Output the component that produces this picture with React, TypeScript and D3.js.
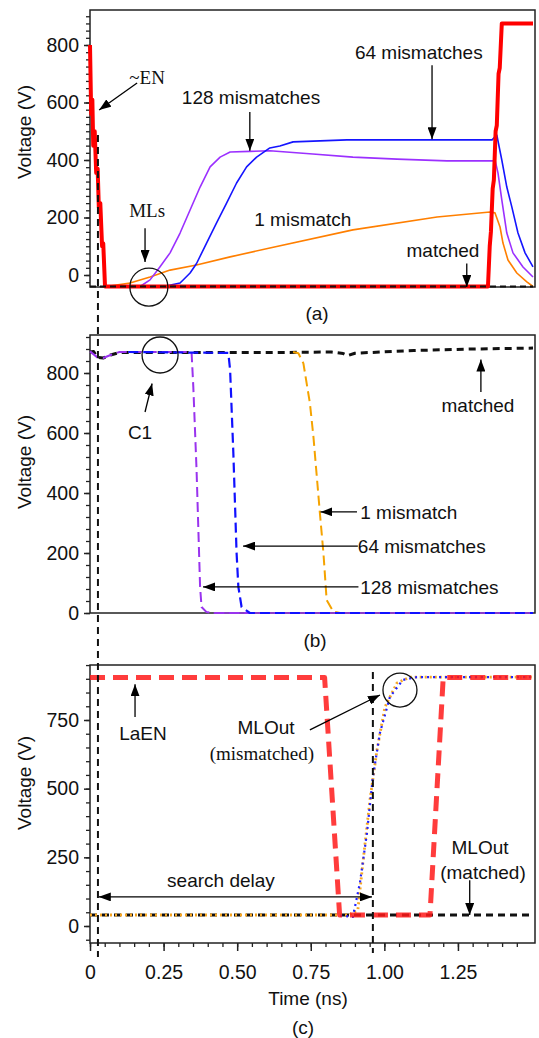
import React, { useEffect, useRef } from "react";
import * as d3 from "d3";

type Pt = [number, number];

// time axis (ns), shared by all three panels
const xTicks = [0, 0.25, 0.5, 0.75, 1, 1.25];
const yTicksA = [0, 200, 400, 600, 800];
const yTicksB = [0, 200, 400, 600, 800];
const yTicksC = [0, 250, 500, 750];

// (a) ~EN and match lines
const enA: Pt[] = [[0, 800], [0.004, 560], [0.008, 610], [0.011, 450], [0.016, 500], [0.021, 355], [0.026, 370], [0.03, 235], [0.035, 250], [0.041, 100], [0.045, 110], [0.051, -40], [1.352, -40], [1.358, 100], [1.362, 150], [1.368, 300], [1.372, 330], [1.378, 500], [1.382, 520], [1.388, 700], [1.392, 720], [1.399, 875], [1.505, 875]];
const ml128A: Pt[] = [[0.17, -40], [0.204, -17], [0.238, 29], [0.272, 77], [0.306, 146], [0.34, 226], [0.374, 306], [0.408, 376], [0.442, 410], [0.476, 428], [0.543, 430], [0.611, 432], [0.757, 421], [0.893, 410], [1.043, 403], [1.213, 397], [1.369, 397], [1.376, 400], [1.386, 355], [1.399, 261], [1.416, 146], [1.437, 77], [1.471, 28], [1.505, -7]];
const ml64A: Pt[] = [[0.25, -40], [0.306, -28], [0.34, 7], [0.362, 40], [0.396, 111], [0.43, 181], [0.464, 250], [0.498, 320], [0.532, 376], [0.566, 410], [0.611, 442], [0.645, 449], [0.69, 463], [0.873, 470], [1.366, 470], [1.382, 487], [1.399, 400], [1.416, 306], [1.433, 237], [1.454, 146], [1.478, 77], [1.505, 28]];
const ml1A: Pt[] = [[0.055, -40], [0.136, -28], [0.204, -7], [0.272, 17], [0.362, 35], [0.476, 63], [0.611, 94], [0.893, 157], [1.179, 202], [1.359, 219], [1.376, 216], [1.393, 167], [1.403, 111], [1.42, 52], [1.45, 7], [1.484, -24], [1.505, -40]];
const matchedA: Pt[] = [[0, -40], [1.505, -40]];

// (b) C1 node voltages
const matchedB: Pt[] = [[0, 870], [0.012, 872], [0.025, 852], [0.045, 850], [0.07, 860], [0.1, 868], [0.6, 868], [0.82, 870], [0.86, 865], [0.875, 858], [0.9, 866], [1.1, 875], [1.3, 880], [1.505, 883]];
const ml128B: Pt[] = [[0, 872], [0.025, 852], [0.045, 850], [0.07, 860], [0.1, 870], [0.345, 870], [0.351, 753], [0.362, 477], [0.374, 87], [0.379, 20], [0.396, 3], [0.42, 0], [1.505, 0]];
const ml64B: Pt[] = [[0.13, 870], [0.47, 867], [0.476, 810], [0.487, 533], [0.498, 200], [0.504, 87], [0.515, 20], [0.543, 0], [1.505, 0]];
const ml1B: Pt[] = [[0.69, 870], [0.708, 866], [0.725, 832], [0.747, 700], [0.759, 588], [0.781, 333], [0.793, 200], [0.804, 43], [0.827, 4], [0.85, 0]];
const floorB: Pt[] = [[0.42, 0], [1.505, 0]];

// (c) LaEN and MLOut
const laEN: Pt[] = [[0, 905], [0.797, 905], [0.848, 40], [1.155, 40], [1.2, 905], [1.505, 905]];
const matchedC: Pt[] = [[0, 40], [1.505, 40]];
const mlOutOrange: Pt[] = [[0, 40], [0.88, 40], [0.91, 58], [0.927, 229], [0.951, 459], [0.975, 641], [1.002, 797], [1.043, 885], [1.087, 906], [1.505, 906]];
const mlOutBlue: Pt[] = [[0.85, 38], [0.893, 33], [0.917, 157], [0.941, 339], [0.961, 542], [0.985, 703], [1.019, 834], [1.063, 896], [1.111, 906], [1.505, 906]];

const SANS = "'Liberation Sans', Arial, sans-serif";
const SERIF = "'Liberation Serif', 'Times New Roman', serif";

export default function App() {
  const ref = useRef<SVGSVGElement>(null);

  useEffect(() => {
    const svg = d3.select(ref.current);
    svg.selectAll("*").remove();

    const defs = svg.append("defs");
    defs
      .append("marker")
      .attr("id", "arr")
      .attr("viewBox", "0 0 12 9")
      .attr("markerUnits", "userSpaceOnUse")
      .attr("markerWidth", 12)
      .attr("markerHeight", 9)
      .attr("refX", 12)
      .attr("refY", 4.5)
      .attr("orient", "auto-start-reverse")
      .append("path")
      .attr("d", "M0,0 L12,4.5 L0,9 z")
      .attr("fill", "#000");

    const x = d3.scaleLinear().domain([0, 1.505]).range([90, 533]);
    const left = 90;
    const right = 535;

    const yA = d3.scaleLinear().domain([0, 800]).range([275, 45]);
    const yB = d3.scaleLinear().domain([0, 800]).range([613, 373]);
    const yC = d3.scaleLinear().domain([0, 750]).range([926, 720]);

    const frame = (top: number, bottom: number) => {
      svg
        .append("rect")
        .attr("x", left)
        .attr("y", top)
        .attr("width", right - left)
        .attr("height", bottom - top)
        .attr("fill", "none")
        .attr("stroke", "#222")
        .attr("stroke-width", 1.5);
    };

    const yAxis = (y: d3.ScaleLinear<number, number>, majors: number[], step: number, top: number, bottom: number, lo: number) => {
      const minors = d3.range(lo, y.invert(top) + 0.01, step).filter((v) => y(v) <= bottom + 0.5);
      const g = svg.append("g").attr("transform", `translate(${left},0)`);
      g.call(d3.axisLeft(y).tickValues(minors).tickSize(4).tickFormat(() => ""));
      g.select(".domain").remove();
      g.selectAll("line").attr("stroke", "#222").attr("stroke-width", 1.3);
      const gm = svg.append("g").attr("transform", `translate(${left},0)`);
      gm.call(d3.axisLeft(y).tickValues(majors).tickSize(6).tickPadding(5));
      gm.select(".domain").remove();
      gm.selectAll("line").attr("stroke", "#222").attr("stroke-width", 1.5);
      gm.selectAll("text").attr("font-family", SANS).attr("font-size", 19.5).attr("fill", "#111");
    };

    const yTitle = (cy: number) => {
      svg
        .append("text")
        .attr("transform", `translate(31,${cy}) rotate(-90)`)
        .attr("text-anchor", "middle")
        .attr("font-family", SANS)
        .attr("font-size", 19)
        .attr("fill", "#111")
        .text("Voltage (V)");
    };

    const curve = (data: Pt[], y: d3.ScaleLinear<number, number>, color: string, width: number, dash?: string, opacity = 1) => {
      const line = d3
        .line<Pt>()
        .x((d) => x(d[0]))
        .y((d) => y(d[1]));
      svg
        .append("path")
        .datum(data)
        .attr("d", line)
        .attr("fill", "none")
        .attr("stroke", color)
        .attr("stroke-width", width)
        .attr("stroke-dasharray", dash ?? null)
        .attr("stroke-linejoin", "round")
        .attr("opacity", opacity);
    };

    const arrow = (y: d3.ScaleLinear<number, number>, a: Pt, b: Pt, both = false) => {
      svg
        .append("line")
        .attr("x1", x(a[0]))
        .attr("y1", y(a[1]))
        .attr("x2", x(b[0]))
        .attr("y2", y(b[1]))
        .attr("stroke", "#000")
        .attr("stroke-width", 1.3)
        .attr("marker-end", "url(#arr)")
        .attr("marker-start", both ? "url(#arr)" : null);
    };

    const label = (y: d3.ScaleLinear<number, number>, text: string, p: Pt, opts: { serif?: boolean; size?: number; anchor?: string } = {}) => {
      svg
        .append("text")
        .attr("x", x(p[0]))
        .attr("y", y(p[1]))
        .attr("dy", "0.35em")
        .attr("text-anchor", opts.anchor ?? "middle")
        .attr("font-family", opts.serif ? SERIF : SANS)
        .attr("font-size", opts.size ?? 19)
        .attr("fill", "#111")
        .text(text);
    };

    const circle = (y: d3.ScaleLinear<number, number>, p: Pt, r: number) => {
      svg
        .append("circle")
        .attr("cx", x(p[0]))
        .attr("cy", y(p[1]))
        .attr("r", r)
        .attr("fill", "none")
        .attr("stroke", "#111")
        .attr("stroke-width", 1.3);
    };

    // ---------- panel (a)
    frame(10, 287);
    yAxis(yA, yTicksA, 25, 10, 287, -25);
    yTitle(132);
    curve(ml1A, yA, "#ff7f00", 1.6);
    curve(ml128A, yA, "#9b30ff", 1.6);
    curve(ml64A, yA, "#1515ff", 1.6);
    curve(enA, yA, "#ff0000", 4);
    curve(matchedA, yA, "#111", 1.8, "6,4");
    label(yA, "~EN", [0.194, 689], { serif: true, size: 19 });
    arrow(yA, [0.16, 668], [0.031, 574]);
    label(yA, "128 mismatches", [0.547, 619]);
    arrow(yA, [0.543, 567], [0.543, 432]);
    label(yA, "64 mismatches", [1.117, 776]);
    arrow(yA, [1.162, 730], [1.162, 472]);
    label(yA, "1 mismatch", [0.723, 195]);
    label(yA, "MLs", [0.194, 226], { serif: true, size: 19 });
    arrow(yA, [0.187, 163], [0.187, 45]);
    circle(yA, [0.2, -42], 19);
    label(yA, "matched", [1.199, 87]);
    arrow(yA, [1.28, 40], [1.28, -42]);
    svg.append("text").attr("x", 317).attr("y", 320).attr("text-anchor", "middle").attr("font-family", SANS).attr("font-size", 19).attr("fill", "#111").text("(a)");

    // ---------- panel (b)
    frame(335, 613);
    yAxis(yB, yTicksB, 40, 335, 613, 0);
    yTitle(462);
    curve(matchedB, yB, "#111", 3, "7,5");
    curve(floorB, yB, "#9933ee", 1.5);
    curve(ml1B, yB, "#f5a300", 2, "10,5");
    curve(ml128B, yB, "#9933ee", 2, "10,5");
    curve(ml64B, yB, "#1010ff", 2.2, "10,5");
    circle(yB, [0.238, 860], 18);
    label(yB, "C1", [0.17, 603]);
    arrow(yB, [0.187, 670], [0.211, 765]);
    label(yB, "matched", [1.318, 693]);
    arrow(yB, [1.328, 737], [1.328, 845]);
    label(yB, "1 mismatch", [0.918, 337], { anchor: "start" });
    arrow(yB, [0.907, 337], [0.783, 337]);
    label(yB, "64 mismatches", [0.91, 223], { anchor: "start" });
    arrow(yB, [0.91, 223], [0.52, 223]);
    label(yB, "128 mismatches", [0.918, 87], { anchor: "start" });
    arrow(yB, [0.912, 87], [0.384, 87]);
    svg.append("text").attr("x", 315).attr("y", 647).attr("text-anchor", "middle").attr("font-family", SANS).attr("font-size", 19).attr("fill", "#111").text("(b)");

    // ---------- panel (c)
    frame(665, 943);
    yAxis(yC, yTicksC, 50, 665, 943, -50);
    yTitle(783);
    const gx = svg.append("g").attr("transform", "translate(0,943)");
    gx.call(d3.axisBottom(x).tickValues(d3.range(0, 1.5, 0.05)).tickSize(4).tickFormat(() => ""));
    gx.select(".domain").remove();
    gx.selectAll("line").attr("stroke", "#222").attr("stroke-width", 1.3);
    const gxm = svg.append("g").attr("transform", "translate(0,943)");
    gxm.call(d3.axisBottom(x).tickValues(xTicks).tickSize(8).tickPadding(14).tickFormat((d) => (+d === 0 ? "0" : d3.format(".2f")(+d))));
    gxm.select(".domain").remove();
    gxm.selectAll("line").attr("stroke", "#222").attr("stroke-width", 1.5);
    gxm.selectAll("text").attr("font-family", SANS).attr("font-size", 19.5).attr("fill", "#111");
    svg.append("text").attr("x", 308).attr("y", 1005).attr("text-anchor", "middle").attr("font-family", SANS).attr("font-size", 19).attr("fill", "#111").text("Time (ns)");
    svg.append("text").attr("x", 303).attr("y", 1034).attr("text-anchor", "middle").attr("font-family", SANS).attr("font-size", 19).attr("fill", "#111").text("(c)");

    curve(matchedC, yC, "#111", 3, "7,5");
    curve(mlOutOrange, yC, "#f5a623", 2.8, "2,3");
    curve(mlOutBlue, yC, "#2020ff", 2.2, "2,4");
    curve(laEN, yC, "#ff1a1a", 5, "15,8", 0.85);
    // search-delay reference line at t ≈ 0.96 ns
    svg.append("line").attr("x1", x(0.961)).attr("x2", x(0.961)).attr("y1", 672).attr("y2", 953).attr("stroke", "#111").attr("stroke-width", 2).attr("stroke-dasharray", "7,5");
    label(yC, "LaEN", [0.18, 703]);
    arrow(yC, [0.153, 761], [0.153, 880]);
    label(yC, "MLOut", [0.598, 724]);
    label(yC, "(mismatched)", [0.584, 630], { serif: true, size: 19 });
    arrow(yC, [0.747, 714], [0.985, 841]);
    circle(yC, [1.053, 859], 17);
    label(yC, "search delay", [0.445, 167]);
    arrow(yC, [0.03, 106], [0.958, 106], true);
    label(yC, "MLOut", [1.325, 288]);
    label(yC, "(matched)", [1.335, 197]);
    arrow(yC, [1.29, 167], [1.29, 40]);

    // ~EN reference line spanning all panels
    svg.append("line").attr("x1", x(0.027)).attr("x2", x(0.027)).attr("y1", 135).attr("y2", 957).attr("stroke", "#111").attr("stroke-width", 2).attr("stroke-dasharray", "7,5");
  }, []);

  return (
    <svg
      ref={ref}
      width={539}
      height={1038}
      style={{ position: "absolute", left: 0, top: 0, background: "#fff" }}
    />
  );
}
